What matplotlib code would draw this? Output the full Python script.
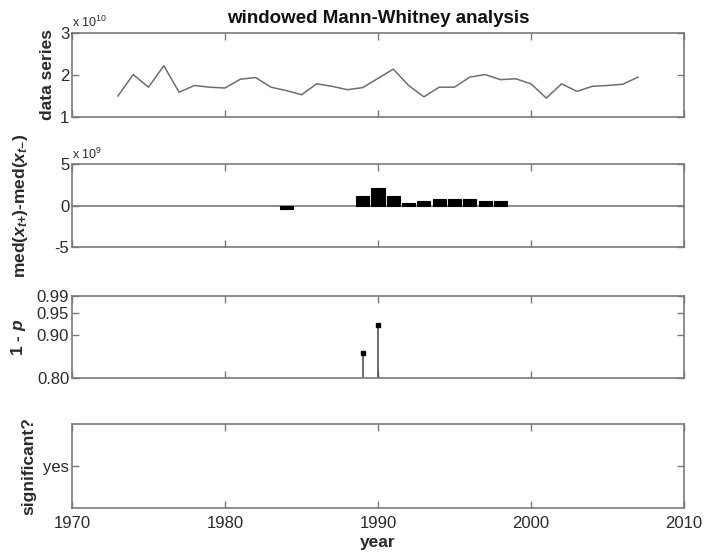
import matplotlib
matplotlib.use('Agg')
import matplotlib.pyplot as plt
from matplotlib.ticker import FuncFormatter, FixedLocator

plt.rcParams['font.family'] = ['Liberation Sans', 'DejaVu Sans']
plt.rcParams['mathtext.fontset'] = 'custom'
plt.rcParams['mathtext.rm'] = 'Liberation Sans'
plt.rcParams['mathtext.it'] = 'Liberation Sans:italic:bold'
plt.rcParams['mathtext.bf'] = 'Liberation Sans:bold'

# ---------------- data ----------------
years = list(range(1973, 2008))
data_series = [1.50e10, 2.01e10, 1.71e10, 2.22e10, 1.59e10, 1.75e10, 1.71e10, 1.69e10,
               1.90e10, 1.94e10, 1.71e10, 1.63e10, 1.53e10, 1.79e10, 1.73e10, 1.65e10,
               1.70e10, 1.92e10, 2.14e10, 1.75e10, 1.48e10, 1.71e10, 1.71e10, 1.95e10,
               2.01e10, 1.89e10, 1.91e10, 1.79e10, 1.45e10, 1.79e10, 1.61e10, 1.73e10,
               1.75e10, 1.78e10, 1.95e10]

diff_years = [1984, 1989, 1990, 1991, 1992, 1993, 1994, 1995, 1996, 1997, 1998]
diff_vals = [-0.38e9, 1.16e9, 2.07e9, 1.16e9, 0.36e9, 0.60e9, 0.76e9, 0.76e9, 0.76e9,
             0.60e9, 0.52e9]

p_years = [1989, 1990]
one_minus_p = [0.859, 0.923]

sig_years = []
sig_vals = []

xticks = [1970, 1980, 1990, 2000, 2010]
xticklabels = ['1970', '1980', '1990', '2000', '2010']
p_ticks = [0.80, 0.90, 0.95, 0.99]
p_ticklabels = ['0.80', '0.90', '0.95', '0.99']

# ---------------- layout ----------------
W, H = 704, 553
fig = plt.figure(figsize=(W / 100, H / 100), dpi=100)

left = 72 / W
width = (684 - 72) / W
panels = [(33, 117), (164, 247), (296, 378), (424, 508)]
axes = []
for top, bot in panels:
    axes.append(fig.add_axes([left, 1 - bot / H, width, (bot - top) / H]))

edge = '#7a7a7a'
txt = '#2a2a2a'
tick_fs = 12
lab_fs = 12.5

for ax in axes:
    ax.set_xlim(1970, 2010)
    ax.xaxis.set_major_locator(FixedLocator(xticks))
    for s in ax.spines.values():
        s.set_color(edge)
        s.set_linewidth(1.2)
    ax.tick_params(direction='in', top=True, right=True, length=5, width=1.0,
                   color=edge, labelsize=tick_fs, labelcolor=txt, pad=2)
    ax.set_xticklabels([])

# panel 1: data series
ax1 = axes[0]
ax1.plot(years, data_series, color='#6e6e6e', lw=1.1)
ax1.set_ylim(1e10, 3e10)
ax1.yaxis.set_major_locator(FixedLocator([1e10, 2e10, 3e10]))
ax1.yaxis.set_major_formatter(FuncFormatter(lambda v, p: f'{v / 1e10:g}'))
ax1.set_ylabel('data series', fontsize=lab_fs, fontweight='bold', color=txt)
ax1.yaxis.set_label_coords(-0.028, 0.5)
ax1.text(0.0, 1.03, r'x 10$^{10}$', transform=ax1.transAxes, fontsize=9, color=txt,
         ha='left', va='bottom')
ax1.set_title('windowed Mann-Whitney analysis', fontsize=13.5, fontweight='bold',
              color='#111111', pad=7)

# panel 2: median differences
ax2 = axes[1]
ax2.axhline(0, color=edge, lw=1.2, zorder=1)
ax2.bar(diff_years, diff_vals, width=0.85, color='black', edgecolor='black', lw=0.8, zorder=2)
ax2.set_ylim(-5e9, 5e9)
ax2.yaxis.set_major_locator(FixedLocator([-5e9, 0, 5e9]))
ax2.yaxis.set_major_formatter(FuncFormatter(lambda v, p: f'{v / 1e9:g}'))
ax2.set_ylabel(r'med($\mathit{x}_{\mathit{t}\mathbf{+}}$)-med($\mathit{x}_{\mathit{t}\mathbf{-}}$)',
               fontsize=lab_fs, fontweight='bold', color=txt)
ax2.yaxis.set_label_coords(-0.068, 0.5)
ax2.text(0.0, 1.03, r'x 10$^{9}$', transform=ax2.transAxes, fontsize=9, color=txt,
         ha='left', va='bottom')

# panel 3: 1 - p
ax3 = axes[2]
ml, sl, bl = ax3.stem(p_years, one_minus_p, bottom=0.8, basefmt=' ')
plt.setp(sl, color='#444444', lw=1.1)
plt.setp(ml, color='black', marker='s', markersize=3.5)
ax3.set_ylim(0.8, 0.99)
ax3.yaxis.set_major_locator(FixedLocator(p_ticks))
ax3.set_yticklabels(p_ticklabels)
ax3.set_ylabel(r'1 - $\mathit{p}$', fontsize=lab_fs, fontweight='bold', color=txt)
ax3.yaxis.set_label_coords(-0.072, 0.5)

# panel 4: significant?
ax4 = axes[3]
ax4.plot(sig_years, sig_vals, 'ks')
ax4.set_ylim(0, 2)
ax4.yaxis.set_major_locator(FixedLocator([1]))
ax4.set_yticklabels(['yes'])
ax4.set_ylabel('significant?', fontsize=lab_fs, fontweight='bold', color=txt)
ax4.yaxis.set_label_coords(-0.058, 0.5)
ax4.set_xticklabels(xticklabels)
ax4.tick_params(axis='x', pad=6)
ax4.set_xlabel('year', fontsize=lab_fs, fontweight='bold', color=txt, labelpad=3)

fig.savefig('out.png', dpi=100, facecolor='white')
